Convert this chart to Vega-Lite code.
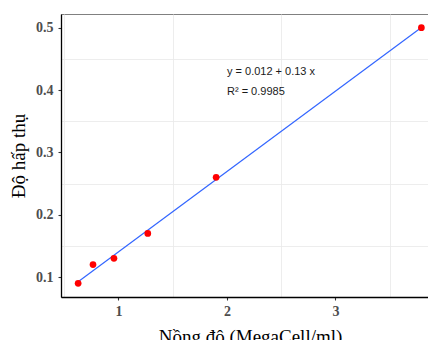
{
  "$schema": "https://vega.github.io/schema/vega-lite/v6.json",
  "autosize": "none",
  "width": 367,
  "height": 283,
  "padding": {"left": 61, "top": 14, "right": 0, "bottom": 43},
  "background": "white",
  "config": {
    "view": {"stroke": "#808080", "strokeWidth": 1},
    "axis": {
      "gridColor": "#E8E8E8",
      "domainColor": "#000000",
      "domainWidth": 1.3,
      "tickColor": "#333333",
      "tickSize": 3,
      "tickWidth": 1.1,
      "labelFont": "Liberation Serif",
      "labelFontWeight": "bold",
      "labelFontSize": 14,
      "labelColor": "#4D4D4D",
      "titleFont": "Liberation Serif",
      "titleFontWeight": "normal",
      "titleFontSize": 19,
      "titleColor": "#000000"
    }
  },
  "datasets": {
    "pts": [
      {"x": 0.628, "y": 0.09},
      {"x": 0.765, "y": 0.12},
      {"x": 0.958, "y": 0.13},
      {"x": 1.27, "y": 0.17},
      {"x": 1.9, "y": 0.26},
      {"x": 3.792, "y": 0.5}
    ],
    "ann": [
      {"x": 2.0, "y": 0.429, "label": "y = 0.012 + 0.13 x"},
      {"x": 2.0, "y": 0.397, "label": "R² = 0.9985"}
    ]
  },
  "resolve": {"axis": {"x": "independent", "y": "independent"}},
  "layer": [
    {
      "data": {"name": "pts"},
      "mark": {"type": "point", "opacity": 0, "clip": true},
      "encoding": {
        "x": {"field": "x", "type": "quantitative", "scale": {"domain": [0.47, 3.853], "nice": false, "zero": false},
          "axis": {"orient": "top", "values": [0.5, 1.5, 2.5, 3.5], "labels": false, "ticks": false, "domain": false, "title": null, "gridWidth": 0.8}},
        "y": {"field": "y", "type": "quantitative", "scale": {"domain": [0.068, 0.522], "nice": false, "zero": false},
          "axis": {"orient": "right", "values": [0.15, 0.25, 0.35, 0.45], "labels": false, "ticks": false, "domain": false, "title": null, "gridWidth": 0.8}}
      }
    },
    {
      "data": {"name": "pts"},
      "transform": [{"regression": "y", "on": "x"}],
      "mark": {"type": "line", "color": "#3366FF", "strokeWidth": 1.2},
      "encoding": {
        "x": {"field": "x", "type": "quantitative",
          "axis": {"orient": "bottom", "values": [1, 2, 3], "title": "Nồng độ (MegaCell/ml)", "gridWidth": 1.4, "labelPadding": 4, "titlePadding": 9, "titleX": 189}},
        "y": {"field": "y", "type": "quantitative",
          "axis": {"orient": "left", "values": [0.1, 0.2, 0.3, 0.4, 0.5], "title": "Độ hấp thụ", "gridWidth": 1.4, "labelPadding": 5, "titlePadding": 7}}
      }
    },
    {
      "data": {"name": "pts"},
      "mark": {"type": "circle", "color": "#FF0000", "opacity": 1, "size": 45},
      "encoding": {
        "x": {"field": "x", "type": "quantitative", "axis": null},
        "y": {"field": "y", "type": "quantitative", "axis": null}
      }
    },
    {
      "data": {"name": "ann"},
      "mark": {"type": "text", "align": "left", "baseline": "middle", "font": "Liberation Sans", "fontSize": 11, "color": "#1a1a1a"},
      "encoding": {
        "x": {"field": "x", "type": "quantitative", "axis": null},
        "y": {"field": "y", "type": "quantitative", "axis": null},
        "text": {"field": "label"}
      }
    }
  ]
}
